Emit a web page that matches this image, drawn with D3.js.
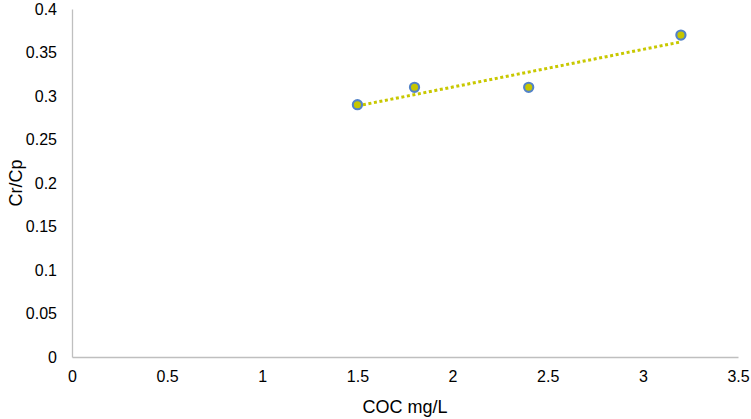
<!DOCTYPE html>
<html lang="en">
<head>
  <meta charset="UTF-8">
  <script src="https://d3js.org/d3.v7.min.js"></script>
  <title>Cr/Cp vs COC</title>
  <style>
    body { margin: 0; background: #fff; }
    text { font-family: "Liberation Sans", Arial, sans-serif; fill: #000; }
  </style>
</head>
<body>
<script>
  // data
  let cocValues = [1.5, 1.8, 2.4, 3.2]
  let crcpValues = [0.29, 0.31, 0.31, 0.37]
  let xTicks = [0, 0.5, 1, 1.5, 2, 2.5, 3, 3.5]
  let yTicks = [0, 0.05, 0.1, 0.15, 0.2, 0.25, 0.3, 0.35, 0.4]

  let width = 751
  let height = 419
  let plotLeft = 72, plotRight = 738, plotTop = 9, plotBottom = 357

  let svg = d3.select("body").append("svg")
              .attr("width", width)
              .attr("height", height)

  let x = d3.scaleLinear().domain([0, 3.5]).range([plotLeft, plotRight])
  let y = d3.scaleLinear().domain([0, 0.4]).range([plotBottom, plotTop])

  // axes, no tick marks, only the lines
  let xAxis = svg.append("g")
                 .attr("transform", "translate(0," + plotBottom + ")")
                 .call(d3.axisBottom(x).tickValues(xTicks).tickSize(0).tickPadding(14)
                         .tickFormat(d3.format("")))
  let yAxis = svg.append("g")
                 .attr("transform", "translate(" + plotLeft + ",0)")
                 .call(d3.axisLeft(y).tickValues(yTicks).tickSize(0).tickPadding(15)
                         .tickFormat(d3.format("")))
  ;[xAxis, yAxis].forEach(function(g){
    g.attr("font-size", null).attr("font-family", null)
    g.select(".domain").attr("stroke", "#bfbfbf").attr("stroke-width", 1.3)
    g.selectAll("text").attr("font-size", 16).attr("fill", "#000")
  })

  // linear trendline (least squares over the points)
  let n = cocValues.length
  let mx = d3.mean(cocValues), my = d3.mean(crcpValues)
  let sxy = 0, sxx = 0
  for (let i = 0; i < n; i++) {
    sxy += (cocValues[i] - mx) * (crcpValues[i] - my)
    sxx += (cocValues[i] - mx) * (cocValues[i] - mx)
  }
  let slope = sxy / sxx
  let inter = my - slope * mx
  let xs = d3.extent(cocValues)
  svg.append("line")
     .attr("x1", x(xs[0])).attr("y1", y(inter + slope * xs[0]))
     .attr("x2", x(xs[1])).attr("y2", y(inter + slope * xs[1]))
     .attr("stroke", "#c8c800")
     .attr("stroke-width", 3)
     .attr("stroke-dasharray", "3,2.6")

  // points
  svg.selectAll("circle")
     .data(d3.zip(cocValues, crcpValues))
     .enter()
     .append("circle")
     .attr("cx", d => x(d[0]))
     .attr("cy", d => y(d[1]))
     .attr("r", 4.6)
     .attr("fill", "#c6c600")
     .attr("stroke", "#5282c8")
     .attr("stroke-width", 2.1)

  // axis titles
  svg.append("text")
     .attr("x", (plotLeft + plotRight) / 2)
     .attr("y", 413)
     .attr("text-anchor", "middle")
     .attr("font-size", 18)
     .text("COC mg/L")
  svg.append("text")
     .attr("transform", "translate(22," + ((plotTop + plotBottom) / 2) + ") rotate(-90)")
     .attr("text-anchor", "middle")
     .attr("font-size", 18)
     .text("Cr/Cp")
</script>
</body>
</html>
